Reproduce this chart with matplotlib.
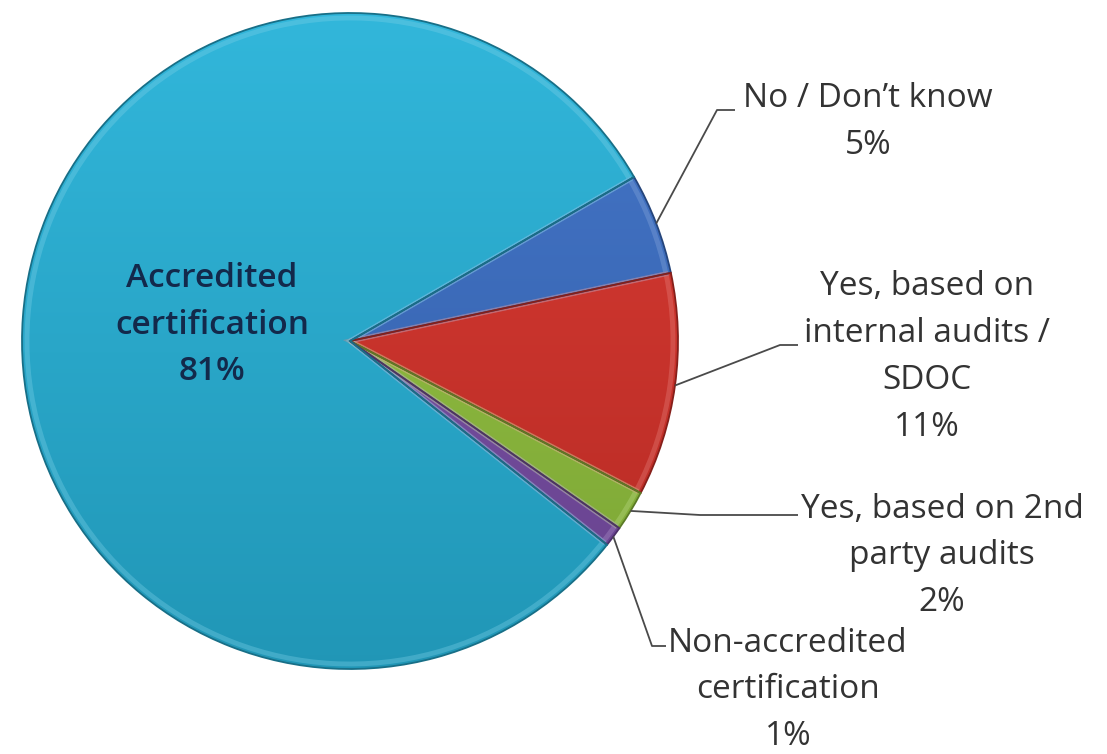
import numpy as np
import matplotlib.pyplot as plt
from matplotlib.colors import to_rgb

labels = ['No / Don\u2019t know', 'Yes, based on\ninternal audits /\nSDOC',
          'Yes, based on 2nd\nparty audits', 'Non-accredited\ncertification',
          'Accredited\ncertification']
values = [5, 11, 2, 1, 81]
colors = ['#3b6fc6', '#d8322a', '#93c43e', '#7a4ea8', '#27b3d9']

# text centre and leader elbow/end for the outside labels (pixels, y down)
label_xy = [(868, 122), (927, 357), (942, 556), (788, 690)]
elbows = [[(717, 110), (735, 110)], [(780, 345), (798, 345)],
          [(700, 515), (798, 515)], [(652, 646), (666, 646)]]

W, H = 1107, 754
cx, cy, r = 350, 754 - 341, 328

plt.rcParams['font.family'] = ['Open Sans', 'DejaVu Sans']
fig = plt.figure(figsize=(W / 100, H / 100), dpi=100)
ax = fig.add_axes([0, 0, 1, 1])


def shade(c, f):
    c = np.array(to_rgb(c))
    return tuple(np.clip(c * f, 0, 1)) if f < 1 else tuple(c + (1 - c) * (f - 1))


wedges, _ = ax.pie(values, colors=colors, startangle=30, counterclock=False,
                   center=(cx, cy), radius=r, frame=True,
                   wedgeprops=dict(linewidth=0))

# vertical light-to-dark fill in each slice
t = np.linspace(0, 1, 256)[:, None, None]
for w, c in zip(wedges, colors):
    top = np.array(shade(c, 1.05))
    bot = np.array(shade(c, 0.84))
    grad = bot + (top - bot) * t
    im = ax.imshow(grad, extent=(cx - r, cx + r, cy - r, cy + r),
                   origin='lower', aspect='auto', zorder=1.5,
                   interpolation='bilinear')
    im.set_clip_path(w)

# soft bevel highlight inside every slice
rims, _ = ax.pie(values, colors=colors, startangle=30, counterclock=False,
                 center=(cx, cy), radius=r - 5, frame=True,
                 wedgeprops=dict(linewidth=3.5, alpha=0.35, fill=False,
                                 zorder=2))
for w, c in zip(rims, colors):
    w.set_edgecolor(shade(c, 1.4))

outline, _ = ax.pie(values, colors=colors, startangle=30, counterclock=False,
                    center=(cx, cy), radius=r, frame=True,
                    wedgeprops=dict(linewidth=1.3, fill=False, zorder=2.5))
for w, c in zip(outline, colors):
    w.set_edgecolor(shade(c, 0.62))

ax.set_xlim(0, W)
ax.set_ylim(0, H)
ax.set_aspect('equal')
ax.axis('off')

for i in range(4):
    w = wedges[i]
    mid = np.deg2rad((w.theta1 + w.theta2) / 2)
    x0, y0 = cx + r * np.cos(mid), cy + r * np.sin(mid)
    xs = [x0] + [p[0] for p in elbows[i]]
    ys = [y0] + [H - p[1] for p in elbows[i]]
    ax.plot(xs, ys, color='#4a4a4a', lw=1.3, solid_capstyle='butt', zorder=3)
    pct = f'{values[i]}%'
    ax.text(label_xy[i][0], H - label_xy[i][1], labels[i] + '\n' + pct,
            ha='center', va='center', fontsize=24, color='#333333',
            linespacing=1.55)

ax.text(212, H - 325, labels[4] + '\n' + f'{values[4]}%', ha='center',
        va='center', fontsize=24, color='#13294b', fontweight='semibold',
        linespacing=1.55, zorder=4)

fig.savefig('out.png', dpi=100)
